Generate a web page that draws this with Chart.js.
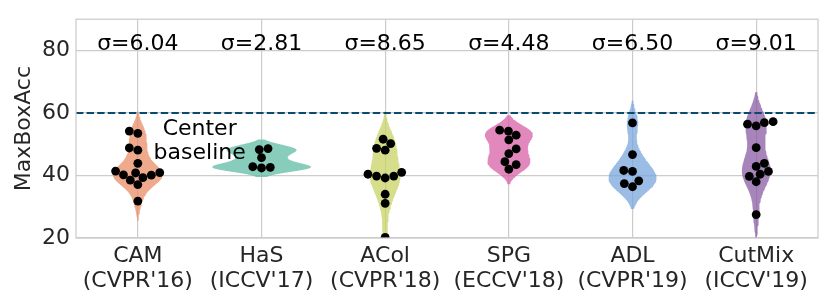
<!DOCTYPE html>
<html>
<head>
<meta charset="utf-8">
<script src="https://cdn.jsdelivr.net/npm/chart.js@4.4.1/dist/chart.umd.min.js"></script>
<style>
  html, body { margin: 0; padding: 0; background: #fff; }
  #wrap { width: 830px; height: 304px; }
</style>
</head>
<body>
<div id="wrap"><canvas id="violinChart" width="830" height="304"></canvas></div>
<script>
// --- data ---
const methods = ['CAM', 'HaS', 'ACol', 'SPG', 'ADL', 'CutMix'];
const venues = ["(CVPR'16)", "(ICCV'17)", "(CVPR'18)", "(ECCV'18)", "(CVPR'19)", "(ICCV'19)"];
const sigmas = [6.04, 2.81, 8.65, 4.48, 6.50, 9.01];

const camScores = [54.2, 53.5, 48.8, 48.1, 43.9, 41.4, 40.9, 40.8, 40.2, 40.1, 39.3, 38.5, 37.1, 31.8];
const hasScores = [48.6, 48.3, 45.7, 42.8, 42.6, 42.4];
const acolScores = [51.6, 50.2, 48.7, 48.1, 41.0, 40.4, 39.8, 39.8, 39.2, 34.0, 31.1, 20.2];
const spgScores = [54.5, 54.2, 52.9, 51.4, 48.5, 47.0, 44.4, 43.5, 42.0];
const adlScores = [56.8, 46.7, 41.6, 41.3, 38.3, 37.4, 36.4];
const cutmixScores = [57.2, 56.9, 56.4, 55.9, 48.9, 43.9, 42.9, 41.3, 40.4, 39.7, 38.0, 27.5];

const yTicks = [20, 40, 60, 80];
const centerBaseline = 60;
const noteLines = ['Center', 'baseline'];

const groups = [camScores, hasScores, acolScores, spgScores, adlScores, cutmixScores];
const fills = [
    'rgba(234, 140, 102, 0.75)',
    'rgba(96, 188, 164, 0.75)',
    'rgba(200, 210, 100, 0.75)',
    'rgba(216, 96, 165, 0.75)',
    'rgba(120, 166, 220, 0.75)',
    'rgba(138, 92, 164, 0.75)'
];
const FONT = '"DejaVu Sans", sans-serif';
const TEXT = '#262626';
const BW = 0.5;   // kde bandwidth factor (times sample std)

// gaussian kde, cut = 2, like seaborn's violins
function kde(values) {
    const n = values.length;
    const mean = values.reduce((a, b) => a + b, 0) / n;
    const sd = Math.sqrt(values.reduce((a, v) => a + (v - mean) ** 2, 0) / (n - 1));
    const bw = BW * sd;
    const lo = Math.min(...values) - 2 * bw;
    const hi = Math.max(...values) + 2 * bw;
    const support = [], density = [];
    for (let k = 0; k < 100; k++) {
        const y = lo + (hi - lo) * k / 99;
        let s = 0;
        values.forEach(v => s += Math.exp(-0.5 * ((y - v) / bw) ** 2));
        support.push(y);
        density.push(s / (n * bw * Math.sqrt(2 * Math.PI)));
    }
    return { support, density };
}

const kdes = groups.map(kde);
const maxDensity = Math.max(...kdes.map(k => Math.max(...k.density)));

const violinSets = kdes.map((k, i) => {
    const right = k.support.map((y, j) => ({ x: i + k.density[j] / maxDensity * 0.4, y }));
    const left = k.support.map((y, j) => ({ x: i - k.density[j] / maxDensity * 0.4, y })).reverse();
    return {
        type: 'line',
        data: right.concat(left),
        backgroundColor: fills[i],
        borderColor: 'rgba(0,0,0,0)',
        borderWidth: 0,
        pointRadius: 0,
        fill: 'shape',
        tension: 0,
        clip: 0,
        order: 3
    };
});

const pointSet = {
    type: 'scatter',
    data: groups.flatMap((vals, i) => vals.map(v => ({ x: i, y: v }))),
    backgroundColor: '#000',
    borderWidth: 0,
    pointRadius: 4.4,
    clip: 0,
    order: 1
};

const baselineSet = {
    type: 'line',
    data: [{ x: -0.5, y: centerBaseline }, { x: 5.5, y: centerBaseline }],
    borderColor: '#0b4a6f',
    borderWidth: 2,
    borderDash: [7.4, 3.2],
    pointRadius: 0,
    fill: false,
    clip: 0,
    order: 2
};

const annotate = {
    id: 'annotate',
    afterDatasetsDraw(chart) {
        const { ctx, chartArea, scales: { x, y } } = chart;
        ctx.save();
        ctx.strokeStyle = '#cccccc';
        ctx.lineWidth = 1.25;
        ctx.strokeRect(chartArea.left, chartArea.top, chartArea.right - chartArea.left, chartArea.bottom - chartArea.top);

        ctx.fillStyle = '#000';
        ctx.font = '22px ' + FONT;
        ctx.textAlign = 'center';
        ctx.textBaseline = 'alphabetic';
        sigmas.forEach((s, i) => {
            ctx.fillText('σ=' + s.toFixed(2), x.getPixelForValue(i), y.getPixelForValue(80));
        });
        ctx.fillText(noteLines[0], x.getPixelForValue(0.5), y.getPixelForValue(53));
        ctx.fillText(noteLines[1], x.getPixelForValue(0.5), y.getPixelForValue(45.2));
        ctx.restore();
    }
};

const chart = new Chart(document.getElementById('violinChart'), {
    type: 'scatter',
    data: { datasets: [pointSet, baselineSet, ...violinSets] },
    options: {
        responsive: false,
        animation: false,
        devicePixelRatio: 1,
        events: [],
        layout: { padding: { top: 12, right: 12, left: 0, bottom: 0 } },
        plugins: { legend: { display: false }, tooltip: { enabled: false } },
        scales: {
            x: {
                type: 'linear',
                min: -0.5,
                max: 5.5,
                afterBuildTicks: s => { s.ticks = methods.map((m, i) => ({ value: i })); },
                afterFit: s => { s.height = 66; },
                grid: { color: '#cccccc', lineWidth: 1.2, drawTicks: false },
                border: { display: false },
                ticks: {
                    padding: 5.5,
                    color: TEXT,
                    autoSkip: false,
                    maxRotation: 0,
                    font: { family: FONT, size: 22, lineHeight: 1.13 },
                    callback: v => [methods[v], venues[v]]
                }
            },
            y: {
                min: 20,
                max: 90,
                afterBuildTicks: s => { s.ticks = yTicks.map(v => ({ value: v })); },
                afterFit: s => { s.width = 76; },
                grid: { color: '#cccccc', lineWidth: 1.2, drawTicks: false },
                border: { display: false },
                ticks: {
                    padding: 6,
                    color: TEXT,
                    font: { family: FONT, size: 22 }
                },
                title: {
                    display: true,
                    text: 'MaxBoxAcc',
                    color: TEXT,
                    padding: { top: 11, bottom: 0 },
                    font: { family: FONT, size: 22 }
                }
            }
        }
    },
    plugins: [annotate]
});

// beeswarm offsets (seaborn-style), worked out in pixels then mapped back through the x scale
function swarm() {
    const xs = chart.scales.x, ys = chart.scales.y;
    const d = 8.4;
    const out = [];
    groups.forEach((vals, i) => {
        const mid = xs.getPixelForValue(i);
        const order = vals.map((v, k) => k).sort((a, b) => vals[a] - vals[b]);
        const placed = [];
        order.forEach(k => {
            const py = -ys.getPixelForValue(vals[k]);
            const neighbors = placed.filter(p => py - p.y < d);
            const cands = [mid];
            let leftFirst = true;
            neighbors.forEach(p => {
                const dy = py - p.y;
                const dx = Math.sqrt(Math.max(d * d - dy * dy, 0)) * 1.05;
                const pair = leftFirst ? [p.x - dx, p.x + dx] : [p.x + dx, p.x - dx];
                cands.push(...pair);
                leftFirst = !leftFirst;
            });
            const sorted = cands.map((c, j) => ({ c, j }))
                .sort((a, b) => (Math.abs(a.c - mid) - Math.abs(b.c - mid)) || (a.j - b.j));
            let px = mid;
            for (const { c } of sorted) {
                if (neighbors.every(p => (p.x - c) ** 2 + (p.y - py) ** 2 >= d * d - 1e-6)) { px = c; break; }
            }
            placed.push({ x: px, y: py });
            out.push({ x: xs.getValueForPixel(px), y: vals[k] });
        });
    });
    chart.data.datasets[0].data = out;
    chart.update('none');
}
swarm();
</script>
</body>
</html>
